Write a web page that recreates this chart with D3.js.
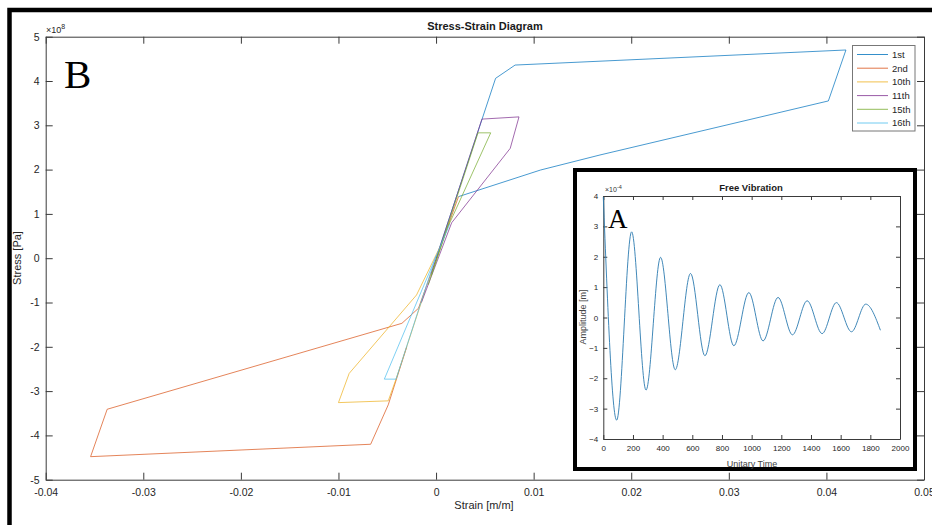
<!DOCTYPE html>
<html>
<head>
<meta charset="utf-8">
<script src="https://cdn.jsdelivr.net/npm/d3@7"></script>
<style>
  body { margin: 0; background: #fff; }
  svg { display: block; font-family: "Liberation Sans", Arial, sans-serif; }
</style>
</head>
<body>
<script>
// ---- data (stress in 1e8 Pa, amplitude in 1e-4 m) ----
const cycleNames = ["1st", "2nd", "10th", "11th", "15th", "16th"];
const cycleColors = ["#0072BD", "#D95319", "#EDB120", "#7E2F8E", "#77AC30", "#4DBEEE"];

const strain1st = [0, 0.0061, 0.0081, 0.0420, 0.0402, 0.0168, 0.0107, 0.0023];
const stress1st = [0, 4.06, 4.36, 4.70, 3.55, 2.33, 1.99, 1.39];
const strain2nd = [0.0023, -0.0018, -0.0035, -0.0337, -0.0354, -0.0067, -0.0049, -0.0030];
const stress2nd = [1.39, -1.13, -1.47, -3.41, -4.48, -4.20, -3.31, -2.00];
const strain10th = [0.0005, -0.0020, -0.0089, -0.0100, -0.0049, -0.0041, -0.0011];
const stress10th = [0.30, -0.83, -2.60, -3.26, -3.22, -2.73, -0.72];
const strain11th = [-0.0005, 0.0047, 0.0085, 0.0076, 0.0016, -0.0015];
const stress11th = [-0.35, 3.14, 3.19, 2.48, 0.80, -1.00];
const strain15th = [-0.0008, 0.0043, 0.0056, 0.0012, -0.0005];
const stress15th = [-0.60, 2.83, 2.83, 0.70, -0.40];
const strain16th = [0.0014, -0.0053, -0.0041, 0.0000];
const stress16th = [0.77, -2.73, -2.73, 0.05];

const xTicks = [-0.04, -0.03, -0.02, -0.01, 0, 0.01, 0.02, 0.03, 0.04, 0.05];
const xTickLabels = ["-0.04", "-0.03", "-0.02", "-0.01", "0", "0.01", "0.02", "0.03", "0.04", "0.05"];
const yTicks = [-5, -4, -3, -2, -1, 0, 1, 2, 3, 4, 5];
const yTickLabels = ["-5", "-4", "-3", "-2", "-1", "0", "1", "2", "3", "4", "5"];

// free vibration: turning points
const vibTime = [0, 90, 191, 288, 386, 485, 588, 685, 786, 880, 981, 1077, 1178, 1275, 1374, 1475, 1571, 1673, 1769, 1868];
const vibAmp = [3.97, -3.38, 2.82, -2.39, 1.98, -1.72, 1.45, -1.26, 1.08, -0.93, 0.82, -0.77, 0.66, -0.57, 0.55, -0.53, 0.49, -0.47, 0.44, -0.42];
const vibXTicks = [0, 200, 400, 600, 800, 1000, 1200, 1400, 1600, 1800, 2000];
const vibYTicks = [-4, -3, -2, -1, 0, 1, 2, 3, 4];

const cycles = [
    d3.zip(strain1st, stress1st),
    d3.zip(strain2nd, stress2nd),
    d3.zip(strain10th, stress10th),
    d3.zip(strain11th, stress11th),
    d3.zip(strain15th, stress15th),
    d3.zip(strain16th, stress16th)
];

let width = 932, height = 525;
let svg = d3.select("body").append("svg")
    .attr("width", width)
    .attr("height", height);

svg.append("rect")
    .attr("x", 0).attr("y", 0)
    .attr("width", width).attr("height", height)
    .attr("fill", "white");

// outer black frame (runs off right and bottom)
svg.append("path")
    .attr("d", "M9.5,540 V10 H950")
    .attr("fill", "none")
    .attr("stroke", "black")
    .attr("stroke-width", 4.5);

// ---- main axes ----
let x = d3.scaleLinear().domain([-0.04, 0.05]).range([45.7, 924]);
let y = d3.scaleLinear().domain([-5, 5]).range([479.7, 36.7]);
const axisColor = "#3a3a3a";

function styleAxis(g, size) {
    g.attr("color", axisColor)
        .attr("font-family", "Liberation Sans, Arial, sans-serif")
        .attr("font-size", size);
    g.selectAll("text").attr("fill", "#262626");
}

svg.append("g")
    .attr("transform", `translate(0,${y(-5)})`)
    .call(d3.axisBottom(x).tickValues(xTicks).tickFormat((d, i) => xTickLabels[i])
        .tickSizeInner(-7).tickSizeOuter(0).tickPadding(9))
    .call(g => styleAxis(g, 10.5));
svg.append("g")
    .attr("transform", `translate(0,${y(5)})`)
    .call(d3.axisTop(x).tickValues(xTicks).tickFormat("").tickSizeInner(-7).tickSizeOuter(0))
    .call(g => styleAxis(g, 10.5));
svg.append("g")
    .attr("transform", `translate(${x(-0.04)},0)`)
    .call(d3.axisLeft(y).tickValues(yTicks).tickFormat((d, i) => yTickLabels[i])
        .tickSizeInner(-7).tickSizeOuter(0).tickPadding(6))
    .call(g => styleAxis(g, 10.5));
svg.append("g")
    .attr("transform", `translate(${x(0.05)},0)`)
    .call(d3.axisRight(y).tickValues(yTicks).tickFormat("").tickSizeInner(-7).tickSizeOuter(0))
    .call(g => styleAxis(g, 10.5));

// exponent
let exp8 = svg.append("text").attr("x", 46).attr("y", 33)
    .attr("font-size", 9).attr("fill", "#262626");
exp8.append("tspan").text("\u00d710");
exp8.append("tspan").attr("dy", -4).attr("font-size", 7).text("8");

// title and labels
svg.append("text").attr("x", 485).attr("y", 29.5)
    .attr("text-anchor", "middle").attr("font-size", 11).attr("font-weight", "bold")
    .attr("fill", "#1a1a1a").text("Stress-Strain Diagram");
svg.append("text").attr("x", 484).attr("y", 509)
    .attr("text-anchor", "middle").attr("font-size", 11).attr("fill", "#262626")
    .text("Strain [m/m]");
svg.append("text")
    .attr("transform", "translate(21,258) rotate(-90)")
    .attr("text-anchor", "middle").attr("font-size", 11).attr("fill", "#262626")
    .text("Stress [Pa]");

// hysteresis loops
let line = d3.line().x(d => x(d[0])).y(d => y(d[1]));
svg.append("g").selectAll("path")
    .data(cycles)
    .join("path")
    .attr("d", line)
    .attr("fill", "none")
    .attr("stroke", (d, i) => cycleColors[i])
    .attr("stroke-width", 0.8)
    .attr("stroke-opacity", 0.9)
    .attr("stroke-linejoin", "round");

svg.append("text").attr("x", 64).attr("y", 88)
    .attr("font-family", "Liberation Serif, Times New Roman, serif")
    .attr("font-size", 41).attr("fill", "black").text("B");

// legend
let legend = svg.append("g");
legend.append("rect")
    .attr("x", 852.5).attr("y", 45.5).attr("width", 62.5).attr("height", 85.5)
    .attr("fill", "white").attr("stroke", "#777").attr("stroke-width", 1);
cycleNames.forEach(function(name, i) {
    let ly = 54.5 + i * 13.7;
    legend.append("line")
        .attr("x1", 857).attr("x2", 888).attr("y1", ly).attr("y2", ly)
        .attr("stroke", cycleColors[i]).attr("stroke-width", 0.8);
    legend.append("text")
        .attr("x", 892).attr("y", ly + 3.4)
        .attr("font-size", 9.5).attr("fill", "#262626").text(name);
});

// ---- inset: free vibration ----
svg.append("rect")
    .attr("x", 575).attr("y", 170).attr("width", 340).attr("height", 299)
    .attr("fill", "white").attr("stroke", "black").attr("stroke-width", 4);

let ix = d3.scaleLinear().domain([0, 2000]).range([603.3, 900]);
let iy = d3.scaleLinear().domain([-4, 4]).range([439, 196]);

svg.append("g")
    .attr("transform", `translate(0,${iy(-4)})`)
    .call(d3.axisBottom(ix).tickValues(vibXTicks).tickFormat(d3.format("d"))
        .tickSizeInner(-4).tickSizeOuter(0).tickPadding(6))
    .call(g => styleAxis(g, 8));
svg.append("g")
    .attr("transform", `translate(0,${iy(4)})`)
    .call(d3.axisTop(ix).tickValues(vibXTicks).tickFormat("").tickSizeInner(-4).tickSizeOuter(0))
    .call(g => styleAxis(g, 8));
svg.append("g")
    .attr("transform", `translate(${ix(0)},0)`)
    .call(d3.axisLeft(iy).tickValues(vibYTicks).tickFormat(d3.format("d"))
        .tickSizeInner(-4).tickSizeOuter(0).tickPadding(5))
    .call(g => styleAxis(g, 8));
svg.append("g")
    .attr("transform", `translate(${ix(2000)},0)`)
    .call(d3.axisRight(iy).tickValues(vibYTicks).tickFormat("").tickSizeInner(-4).tickSizeOuter(0))
    .call(g => styleAxis(g, 8));

let vibLine = d3.line()
    .x(d => ix(d[0])).y(d => iy(d[1]))
    .curve(d3.curveMonotoneX);
svg.append("path")
    .datum(d3.zip(vibTime, vibAmp))
    .attr("d", vibLine)
    .attr("fill", "none")
    .attr("stroke", "#2b7bb0")
    .attr("stroke-width", 0.9);

let exp4 = svg.append("text").attr("x", 605).attr("y", 192)
    .attr("font-size", 7).attr("fill", "#333");
exp4.append("tspan").text("\u00d710");
exp4.append("tspan").attr("dy", -3).attr("font-size", 5.5).text("-4");

svg.append("text").attr("x", 751).attr("y", 190.5)
    .attr("text-anchor", "middle").attr("font-size", 9.5).attr("font-weight", "bold")
    .attr("fill", "#1a1a1a").text("Free Vibration");
svg.append("text").attr("x", 752).attr("y", 467)
    .attr("text-anchor", "middle").attr("font-size", 9).attr("fill", "#444")
    .text("Unitary Time");
svg.append("text")
    .attr("transform", "translate(586,317) rotate(-90)")
    .attr("text-anchor", "middle").attr("font-size", 9).attr("fill", "#444")
    .text("Amplitude [m]");

svg.append("text").attr("x", 608).attr("y", 227.5)
    .attr("font-family", "Liberation Serif, Times New Roman, serif")
    .attr("font-size", 27).attr("fill", "black").text("A");
</script>
</body>
</html>
